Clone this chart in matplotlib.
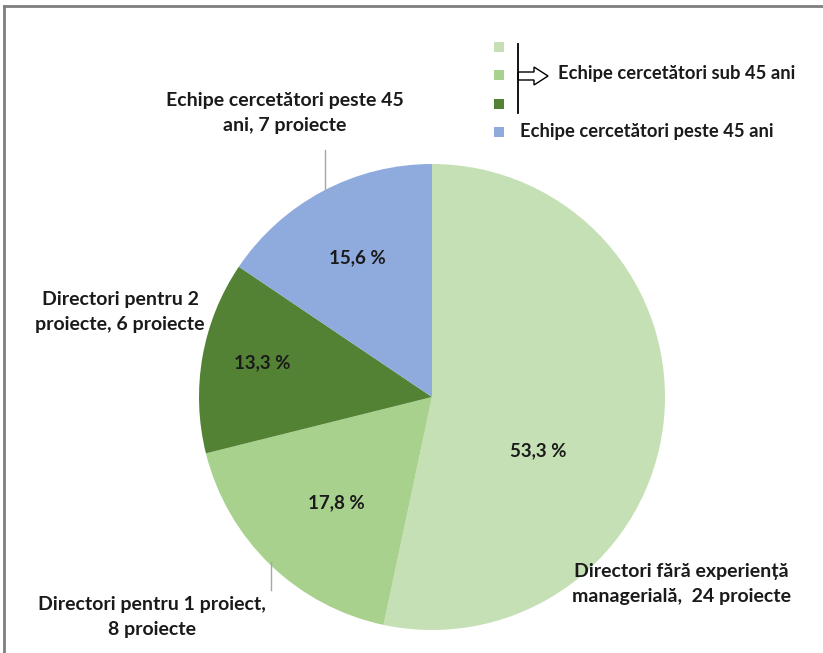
import matplotlib.pyplot as plt
from matplotlib.patches import Rectangle, Polygon
from matplotlib.lines import Line2D

plt.rcParams['font.family'] = ['Lato', 'DejaVu Sans']

# data
labels = ["Directori fără experiență\nmanagerială,  24 proiecte",
          "Directori pentru 1 proiect,\n8 proiecte",
          "Directori pentru 2\nproiecte, 6 proiecte",
          "Echipe cercetători peste 45\nani, 7 proiecte"]
projects = [24, 8, 6, 7]
pct_text = ["53,3 %", "17,8 %", "13,3 %", "15,6 %"]
colors = ["#c5e0b4", "#a9d18e", "#548235", "#8faadc"]
legend_sub = "Echipe cercetători sub 45 ani"
legend_peste = "Echipe cercetători peste 45 ani"

W, H = 823, 653
fig = plt.figure(figsize=(W / 100, H / 100), dpi=100)


def P(px, py):
    # pixel (from top-left) -> inches for dpi_scale_trans
    return (px / 100, (H - py) / 100)


# pie axes, centre (432, 397), radius 233 px
cx, cy, r = 432, 397, 233
ax = fig.add_axes([(cx - r) / W, (H - cy - r) / H, 2 * r / W, 2 * r / H])
ax.pie(projects, colors=colors, startangle=90, counterclock=False,
       radius=1, wedgeprops=dict(linewidth=0))
ax.set_xlim(-1, 1)
ax.set_ylim(-1, 1)
ax.axis('off')


def D(px, py):
    return ((px - cx) / r, (cy - py) / r)


# percent labels inside
pct_pos = [(538, 451), (336, 503), (262, 363), (357, 258)]
for t, (px, py) in zip(pct_text, pct_pos):
    ax.text(*D(px, py), t, ha='center', va='center', fontsize=13.5,
            fontweight='bold', color='#1a1a1a')

# outside labels
lab_pos = [(681, 584), (152, 617), (120, 312), (285, 113)]
for t, (px, py) in zip(labels, lab_pos):
    ax.text(*D(px, py), t, ha='center', va='center', fontsize=14,
            fontweight='bold', color='#1a1a1a', linespacing=1.62,
            clip_on=False)

# leader lines
for (x0, y0, x1, y1) in [(325, 150, 325, 190), (271, 562, 271, 590)]:
    ax.add_line(Line2D([D(x0, y0)[0], D(x1, y1)[0]],
                       [D(x0, y0)[1], D(x1, y1)[1]],
                       color='#a6a6a6', lw=1, clip_on=False))

tr = fig.dpi_scale_trans

# legend squares
sq_y = [47, 75, 104, 132]
for c, y in zip(colors, sq_y):
    x0, y0 = P(494, y + 5)
    fig.add_artist(Rectangle((x0, y0), 0.1, 0.1, transform=tr,
                             facecolor=c, edgecolor='none'))

# bracket and hollow arrow
fig.add_artist(Line2D([5.18, 5.18], [P(0, 44)[1], P(0, 113)[1]],
                      transform=tr, color='black', lw=1.3))
arrow_px = [(518, 72), (534, 72), (534, 67), (548, 76), (534, 85),
            (534, 80), (518, 80)]
fig.add_artist(Polygon([P(x, y) for x, y in arrow_px], closed=True,
                       transform=tr, facecolor='white', edgecolor='black',
                       lw=1))

fig.text(558 / W, 1 - 73 / H, legend_sub, ha='left', va='center',
         fontsize=13.2, fontweight='bold', color='#1a1a1a')
fig.text(520 / W, 1 - 132 / H, legend_peste, ha='left', va='center',
         fontsize=13.2, fontweight='bold', color='#1a1a1a')

# chart frame
fig.add_artist(Line2D([P(4, 0)[0], P(W, 0)[0]], [P(0, 6)[1], P(0, 6)[1]],
                      transform=tr, color='#7f7f7f', lw=2))
fig.add_artist(Line2D([P(4, 0)[0], P(4, 0)[0]], [P(0, 6)[1], P(0, H)[1]],
                      transform=tr, color='#7f7f7f', lw=2))

fig.savefig('out.png', dpi=100)
